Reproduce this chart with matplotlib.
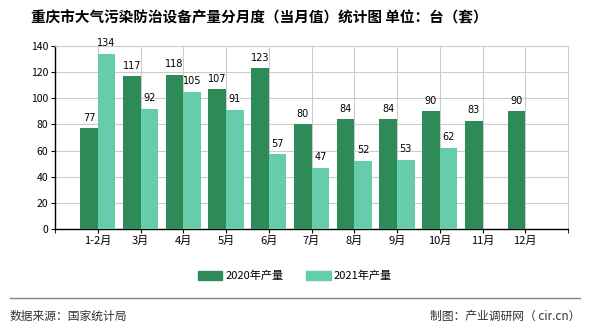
import numpy as np
import matplotlib.pyplot as plt
from matplotlib.patches import Patch

plt.rcParams['font.family'] = ['Noto Sans CJK SC', 'DejaVu Sans']

# --------- DATA ---------
months = ["1-2月", "3月", "4月", "5月", "6月", "7月", "8月", "9月", "10月", "11月", "12月"]
prod_2020 = [77, 117, 118, 107, 123, 80, 84, 84, 90, 83, 90]
prod_2021 = [134, 92, 105, 91, 57, 47, 52, 53, 62]

DARK = "#2e8b57"
LIGHT = "#66cdaa"
W = 0.41

fig = plt.figure(figsize=(5.9, 3.3), dpi=100)
ax = fig.add_axes([55 / 590, 1 - 229 / 330, 513 / 590, 183 / 330])

x = np.arange(1, len(months) + 1)
x21 = x[:len(prod_2021)]
ax.bar(x - W / 2, prod_2020, W, color=DARK, zorder=3)
ax.bar(x21 + W / 2, prod_2021, W, color=LIGHT, zorder=3)

for xi, v in zip(x, prod_2020):
    ax.annotate(str(v), (xi - W / 2, v), textcoords="offset points", xytext=(0, 4),
                ha="center", va="bottom", fontsize=7, family="DejaVu Sans", zorder=4)
for xi, v in zip(x21, prod_2021):
    ax.annotate(str(v), (xi + W / 2, v), textcoords="offset points", xytext=(0, 4),
                ha="center", va="bottom", fontsize=7, family="DejaVu Sans", zorder=4)

ax.set_xlim(0, 12)
ax.set_ylim(0, 140)
ax.set_yticks(range(0, 141, 20))
ax.set_xticks(x)
ax.set_xticklabels(months, fontsize=8)
ax.set_xticks([0, 12], minor=True)
ax.tick_params(axis="y", labelsize=7.5, length=3, pad=2)
ax.tick_params(axis="x", which="both", length=3, pad=2)
ax.grid(True, color="#cccccc", linewidth=0.8, zorder=0)
for s in ["top", "right"]:
    ax.spines[s].set_color("#cccccc")
for s in ["left", "bottom"]:
    ax.spines[s].set_color("black")
    ax.spines[s].set_linewidth(1)

fig.text(0.44, 1 - 17 / 330, "重庆市大气污染防治设备产量分月度（当月值）统计图 单位：台（套）",
         ha="center", va="center", fontsize=10.5, fontweight="bold")

handles = [Patch(color=DARK, label="2020年产量"), Patch(color=LIGHT, label="2021年产量")]
fig.legend(handles=handles, loc="center", bbox_to_anchor=(0.5, 1 - 276 / 330), ncol=2,
           frameon=False, fontsize=8, handlelength=2.2, handleheight=0.8,
           columnspacing=2.0, handletextpad=0.3)

fig.add_artist(plt.Line2D([10 / 590, 580 / 590], [1 - 298 / 330] * 2, color="#888888",
                          linewidth=1, transform=fig.transFigure))
fig.text(10 / 590, 1 - 316 / 330, "数据来源：国家统计局", ha="left", va="center",
         fontsize=8.5, color="#333333")
fig.text(580 / 590, 1 - 316 / 330, "制图：产业调研网（ cir.cn）", ha="right", va="center",
         fontsize=8.5, color="#333333")

fig.savefig("out.png", dpi=100)
